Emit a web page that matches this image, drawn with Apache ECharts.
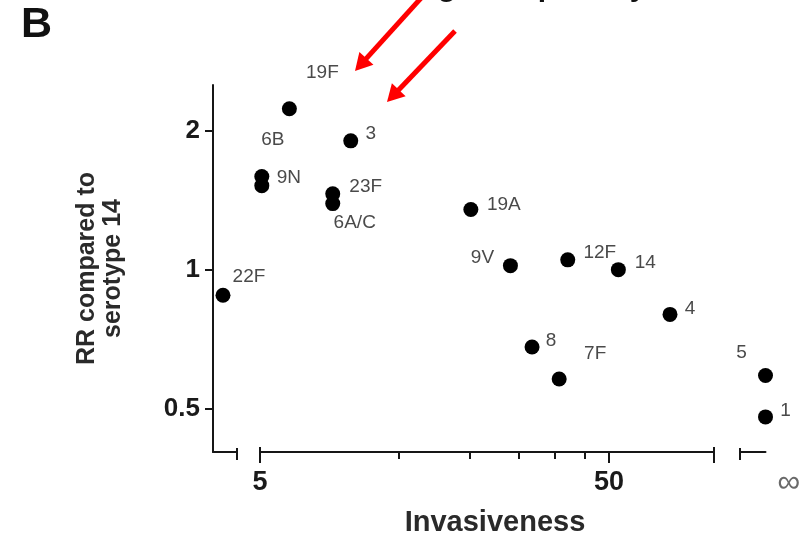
<!DOCTYPE html>
<html><head><meta charset="utf-8">
<script src="https://cdn.jsdelivr.net/npm/echarts@6/dist/echarts.min.js"></script>
<style>html,body{margin:0;padding:0;background:#fff}#c{width:808px;height:541px}</style>
</head><body><div id="c"></div>
<script>
// ---------------- data ----------------
const serotypes    = ['19F','6B','9N','3','23F','6A/C','19A','9V','12F','14','4','8','7F','22F','5','1'];
const invasiveness = [6.07, 5.06, 5.06, 9.10, 8.08, 8.08, 20.1, 26.1, 38.1, 53.2, 74.8, 30.1, 36.0, 3.92, Infinity, Infinity];
const rrValues     = [2.23, 1.59, 1.52, 1.90, 1.46, 1.39, 1.35, 1.02, 1.05, 1.00, 0.80, 0.68, 0.58, 0.88, 0.59, 0.48];
const yTickValues = [0.5, 1, 2];
const xTickValues = [5, 50];
const xMinorTickValues = [12.5, 20, 27.5, 35, 42.5];
const infinityLabel = '∞';
const yAxisTitle = 'RR compared to\nserotype 14';
const xAxisTitle = 'Invasiveness';
const panelLabel = 'B';

// ---------------- layout / style ----------------
const FONT = '"Liberation Sans", Arial, Helvetica, sans-serif';
const AX = '#161616';
const labelOffset = {
  '19F':[33,-36], '6B':[11,-37], '9N':[27,-8], '3':[20,-7], '23F':[33,-7], '6A/C':[22,19],
  '19A':[33,-5], '9V':[-28,-8], '12F':[32,-7], '14':[27,-7], '4':[20,-6], '8':[19,-6],
  '7F':[36,-25], '22F':[26,-19], '5':[-24,-23], '1':[20,-6]
};
const Y_MIN = 0.403, Y_MAX = 2.51;
const A_MIN = 3.67, A_MAX = 4.30;   // short left segment
const B_MIN = 5, B_MAX = 100;       // main segment
const TOP = 85, H = 367;

const segA = [], segB = [], segC = [];
serotypes.forEach((s, i) => {
  const x = invasiveness[i], y = rrValues[i];
  const item = { name: s, value: [isFinite(x) ? x : 1, y], label: { offset: labelOffset[s] } };
  if (!isFinite(x)) segC.push(item);
  else if (x < B_MIN) segA.push(item);
  else segB.push(item);
});

const lineStyle = { color: AX, width: 2 };
function capAxis(grid, type, min, max, vals, len, inside) {
  return {
    type, gridIndex: grid, min, max, position: 'bottom',
    axisLine: { show: false },
    axisTick: { show: true, inside, length: len, lineStyle, customValues: vals },
    axisLabel: { show: false }, splitLine: { show: false }, minorTick: { show: false }
  };
}
const fmt = v => String(Number((+v).toPrecision(3)));

const xAxes = [
  // 0: segment A main
  { type: 'log', gridIndex: 0, min: A_MIN, max: A_MAX, position: 'bottom',
    axisLine: { show: true, lineStyle },
    axisTick: { show: true, length: 8, lineStyle, customValues: [A_MAX] },
    axisLabel: { show: false }, splitLine: { show: false } },
  // 1: segment A cap (inside part)
  capAxis(0, 'log', A_MIN, A_MAX, [A_MAX], 4, true),
  // 2: segment B main
  { type: 'log', gridIndex: 1, min: B_MIN, max: B_MAX, position: 'bottom',
    axisLine: { show: true, lineStyle },
    axisTick: { show: true, length: 11, lineStyle, customValues: xTickValues.concat([B_MAX]) },
    axisLabel: { show: true, customValues: xTickValues, margin: 17, fontSize: 27, fontWeight: 'bold',
      color: '#1a1a1a', fontFamily: FONT, formatter: fmt },
    splitLine: { show: false },
    name: xAxisTitle, nameLocation: 'middle', nameGap: 56,
    nameTextStyle: { fontSize: 29, fontWeight: 'bold', color: '#2a2a2a', fontFamily: FONT, padding: [0, 0, 0, 16] } },
  // 3: segment B minor ticks
  capAxis(1, 'log', B_MIN, B_MAX, xMinorTickValues, 7, false),
  // 4: segment B caps (inside part)
  capAxis(1, 'log', B_MIN, B_MAX, [B_MIN, B_MAX], 5, true),
  // 5: infinity segment
  { type: 'value', gridIndex: 2, min: 0, max: 1, position: 'bottom',
    axisLine: { show: true, lineStyle },
    axisTick: { show: true, length: 8, lineStyle, customValues: [0] },
    axisLabel: { show: true, customValues: [1], formatter: () => infinityLabel, align: 'left',
      padding: [0, 0, 0, 12], margin: 15, fontSize: 32, color: '#6a6a6a', fontFamily: FONT },
    splitLine: { show: false } },
  // 6: infinity segment cap (inside)
  capAxis(2, 'value', 0, 1, [0], 4, true)
];

const yAxes = [
  { type: 'log', logBase: 2, gridIndex: 0, min: Y_MIN, max: Y_MAX, position: 'left',
    axisLine: { show: true, lineStyle },
    axisTick: { show: true, length: 8, lineStyle, customValues: yTickValues },
    axisLabel: { show: true, customValues: yTickValues, margin: 13, fontSize: 26, fontWeight: 'bold',
      color: '#1a1a1a', fontFamily: FONT, formatter: fmt },
    splitLine: { show: false },
    name: yAxisTitle, nameLocation: 'middle', nameGap: 87,
    nameTextStyle: { fontSize: 25, fontWeight: 'bold', color: '#2a2a2a', fontFamily: FONT, lineHeight: 26, align: 'center' } },
  { type: 'log', logBase: 2, gridIndex: 1, min: Y_MIN, max: Y_MAX, show: false },
  { type: 'log', logBase: 2, gridIndex: 2, min: Y_MIN, max: Y_MAX, show: false }
];

const grids = [
  { left: 213, top: TOP, width: 24, height: H, containLabel: false, outerBoundsMode: 'none' },
  { left: 260, top: TOP, width: 454, height: H, containLabel: false, outerBoundsMode: 'none' },
  { left: 740, top: TOP, width: 25.5, height: H, containLabel: false, outerBoundsMode: 'none' }
];

function scatter(xi, yi, data) {
  return {
    type: 'scatter', xAxisIndex: xi, yAxisIndex: yi, data, symbolSize: 15, clip: false,
    itemStyle: { color: '#000000', opacity: 1 },
    label: { show: true, position: 'inside', formatter: '{b}', color: '#4a4a4a', fontSize: 19, fontFamily: FONT },
    emphasis: { disabled: true }, silent: true, animation: false
  };
}

// annotation arrows
function arrow(tail, tip) {
  const dx = tip[0] - tail[0], dy = tip[1] - tail[1];
  const L = Math.hypot(dx, dy), ux = dx / L, uy = dy / L, hl = 17, hw = 9.5;
  const bx = tip[0] - ux * hl, by = tip[1] - uy * hl;
  return [
    { type: 'line', shape: { x1: tail[0], y1: tail[1], x2: bx + ux * 2, y2: by + uy * 2 },
      style: { stroke: '#ff0000', lineWidth: 5 }, z: 10 },
    { type: 'polygon', shape: { points: [tip, [bx - uy * hw, by + ux * hw], [bx + uy * hw, by - ux * hw]] },
      style: { fill: '#ff0000' }, z: 10 }
  ];
}
const partialTitle = [['g', 447], ['p', 547], ['y', 638]].map(([t, x]) => ({
  type: 'text', x, y: -12, style: { text: t, font: 'bold 30px ' + FONT, fill: '#111', align: 'center', verticalAlign: 'middle' }
}));

const chart = echarts.init(document.getElementById('c'), null, { renderer: 'canvas' });
chart.setOption({
  animation: false,
  backgroundColor: '#ffffff',
  title: { text: panelLabel, left: 21, top: 4, padding: 0,
    textStyle: { fontSize: 43, fontWeight: 'bold', color: '#111', fontFamily: FONT } },
  grid: grids,
  xAxis: xAxes,
  yAxis: yAxes,
  series: [scatter(0, 0, segA), scatter(2, 1, segB), scatter(5, 2, segC)],
  graphic: [].concat(arrow([422, -3], [355, 71]), arrow([455, 31], [387, 102]), partialTitle)
});
</script></body></html>
